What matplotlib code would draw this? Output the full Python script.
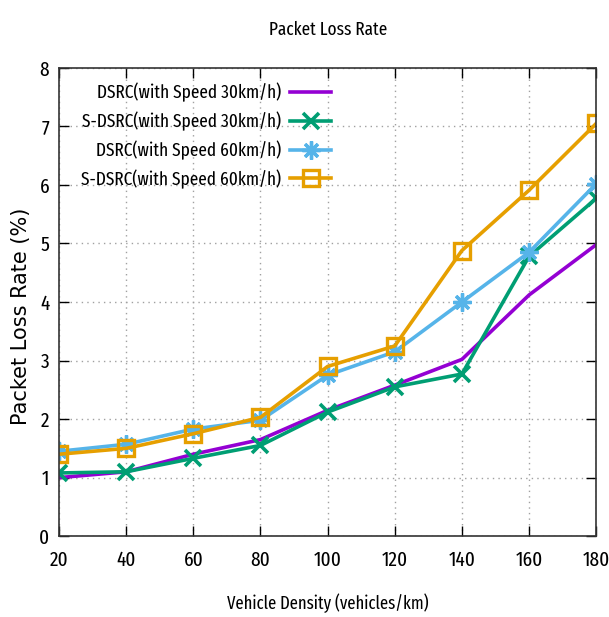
import numpy as np
import matplotlib
matplotlib.use('Agg')
import matplotlib.pyplot as plt

# vehicle density (vehicles/km)
density = [20, 40, 60, 80, 100, 120, 140, 160, 180]

# packet loss rate (%)
dsrc_30 = [1.00, 1.10, 1.40, 1.65, 2.15, 2.58, 3.02, 4.12, 4.98]
sdsrc_30 = [1.08, 1.10, 1.33, 1.55, 2.12, 2.55, 2.77, 4.78, 5.77]
dsrc_60 = [1.45, 1.57, 1.83, 1.98, 2.75, 3.15, 4.00, 4.85, 6.02]
sdsrc_60 = [1.40, 1.50, 1.75, 2.03, 2.90, 3.25, 4.88, 5.91, 7.05]

labels = ['DSRC(with Speed 30km/h)', 'S-DSRC(with Speed 30km/h)',
          'DSRC(with Speed 60km/h)', 'S-DSRC(with Speed 60km/h)']

narrow = ['Fira Sans Extra Condensed', 'DejaVu Sans']
plt.rcParams['font.family'] = narrow

fig = plt.figure(figsize=(6.09, 6.17), dpi=100)
ax = fig.add_axes([0.097, 0.131, 0.882, 0.759])

lw = 2.6
ax.plot(density, dsrc_30, color='#9400d3', lw=lw, label=labels[0])
ax.plot(density, sdsrc_30, color='#009e73', lw=lw, marker='x', ms=11, mew=2.6, label=labels[1])
ax.plot(density, dsrc_60, color='#56b4e9', lw=lw, marker=(8, 2, 0), ms=13, mew=2.4, label=labels[2])
ax.plot(density, sdsrc_60, color='#e69f00', lw=lw, marker='s', ms=12, mew=2.4,
        mfc='none', label=labels[3])

ax.set_xlim(20, 180)
ax.set_ylim(0, 8)
ax.set_xticks(density)
ax.set_yticks(range(0, 9))
ax.grid(True, color='#a0a0a0', ls=(0, (1, 3)), lw=1)
ax.tick_params(direction='in', top=True, right=True, length=7, width=1, labelsize=15)
ax.tick_params(axis='x', pad=10)
ax.tick_params(axis='y', pad=7)
for s in ax.spines.values():
    s.set_linewidth(1.2)
    s.set_color('#333333')

ax.set_title('Packet Loss Rate', fontsize=13.5, pad=24)
ax.set_xlabel('Vehicle Density (vehicles/km)', fontsize=13, labelpad=17)
ax.set_ylabel('Packet Loss Rate (%)', fontsize=15, family='DejaVu Sans')
ax.yaxis.set_label_coords(-0.052, 0.47)

leg = ax.legend(loc='upper right', bbox_to_anchor=(0.538, 1.004), frameon=False,
                markerfirst=False, handlelength=2.2, handletextpad=0.45,
                labelspacing=0.5, borderpad=0.4, prop={'size': 13.5})
leg._legend_box.align = 'right'

fig.savefig('out.png', dpi=100)
